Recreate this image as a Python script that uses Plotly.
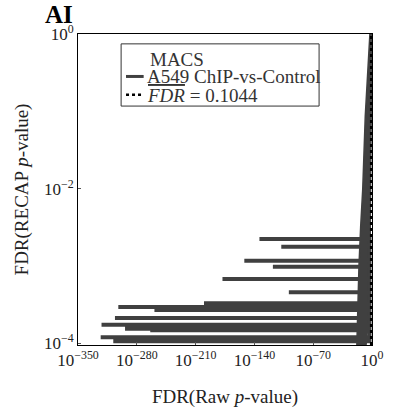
import math
import plotly.graph_objects as go

# ---- data ----
# horizontal excursions: recap FDR level and the smallest raw FDR reached (log10)
bar_recap_fdr = [2.24e-3, 1.78e-3, 1.17e-3, 9.8e-4, 6.8e-4, 4.6e-4, 3.3e-4, 2.95e-4,
                 2.7e-4, 2.14e-4, 1.74e-4, 1.55e-4, 1.48e-4, 1.2e-4, 1.07e-4]
bar_raw_log10 = [-134, -108, -152, -118, -178, -99, -200, -302,
                 -259, -306, -322, -294, -264, -323, -308]
bar_right_raw_log10 = -3.0

# envelope of the dense band of points near raw FDR ~ 1 (log10 of raw FDR)
band_raw_log10 = [-0.2, -2.5, -8.0, -11.0, -13.5, -15.5, -18.0, -7.0, -2.8, -1.5, -0.2]
band_recap = [1.0, 1.0, 8.7e-2, 1e-2, 3.2e-3, 1.0e-3, 9.8e-5, 9.8e-5, 3e-4, 1e-2, 1.0]

fdr_bar = 0.1044
x_tick_exps = [-350, -280, -210, -140, -70, 0]
y_tick_vals = [1.0, 1e-2, 1e-4]
y_tick_text = ["10<sup>0</sup>", "10<sup>−2</sup>", "10<sup>−4</sup>"]
y_min_log, y_max_log = -4.02, 0.0

legend_title = "MACS"
legend_series = "A549 ChIP-vs-Control"
legend_fdr = '<span style="text-decoration:overline"><i>FDR</i></span> = 0.1044'

# build the connected line
line_x, line_y = [], []
for yv, xl in zip(bar_recap_fdr, bar_raw_log10):
    line_x += [bar_right_raw_log10, xl, bar_right_raw_log10]
    line_y += [yv, yv, yv]

col = "#404040"
font = "Liberation Serif"
tcol = "#222"

fig = go.Figure()
fig.add_trace(go.Scatter(x=band_raw_log10, y=band_recap, mode="lines", fill="toself",
                         fillcolor=col, line=dict(color=col, width=1.5),
                         showlegend=False, hoverinfo="skip"))
fig.add_trace(go.Scatter(x=line_x, y=line_y, mode="lines", name=legend_series,
                         line=dict(color=col, width=4), showlegend=False))
fdr_x = math.log10(fdr_bar)
fig.add_trace(go.Scatter(x=[fdr_x, fdr_x], y=[10 ** y_min_log, 1.0], mode="lines",
                         name=legend_fdr, showlegend=False,
                         line=dict(color="black", width=2.5, dash="dot")))

fig.update_layout(
    width=396, height=416,
    margin=dict(l=78, r=18, t=34, b=67),
    paper_bgcolor="white", plot_bgcolor="white",
    font=dict(family=font, size=19, color=tcol),
    showlegend=False,
)
fig.update_xaxes(type="linear", range=[-350, 0],
                 tickmode="array", tickvals=x_tick_exps,
                 ticktext=[f"10<sup>{'−' if e < 0 else ''}{abs(e)}</sup>" for e in x_tick_exps],
                 showgrid=False, zeroline=False,
                 showline=True, linecolor="black", linewidth=1, mirror=True,
                 ticks="inside", ticklen=3, tickcolor="#555",
                 tickfont=dict(family=font, size=17, color=tcol),
                 title=dict(text="FDR(Raw <i>p</i>-value)", standoff=20,
                            font=dict(family=font, size=19, color=tcol)))
fig.update_yaxes(type="log", range=[y_min_log, y_max_log],
                 tickmode="array", tickvals=y_tick_vals, ticktext=y_tick_text,
                 showgrid=False, zeroline=False,
                 showline=True, linecolor="black", linewidth=1, mirror=True,
                 ticks="inside", ticklen=3, tickcolor="#555",
                 tickfont=dict(family=font, size=17, color=tcol),
                 title=dict(text="FDR(RECAP <i>p</i>-value)", standoff=10,
                            font=dict(family=font, size=19, color=tcol)))
fig.add_annotation(text="<b>AI</b>", xref="paper", yref="paper", x=-0.12, y=1.112,
                   xanchor="left", yanchor="top", showarrow=False,
                   font=dict(family=font, size=25, color="black"))

# ---- legend box (drawn manually) ----
def px(xp):
    return (xp - 78) / 300.0

def py(yp):
    return 1 - (yp - 34) / 315.0

fig.add_shape(type="rect", xref="paper", yref="paper",
              x0=px(122), x1=px(324), y0=py(107), y1=py(44),
              line=dict(color="#333", width=1), fillcolor="white", layer="above")
fig.add_shape(type="line", xref="paper", yref="paper",
              x0=px(127), x1=px(145), y0=py(77), y1=py(77),
              line=dict(color=col, width=3), layer="above")
fig.add_shape(type="line", xref="paper", yref="paper",
              x0=px(127), x1=px(145), y0=py(95.5), y1=py(95.5),
              line=dict(color="black", width=2.5, dash="dot"), layer="above")
for txt, yy, xx in [(legend_title, 59.5, 149), (legend_series, 77, 146), (legend_fdr, 96, 146)]:
    fig.add_annotation(text=txt, xref="paper", yref="paper", x=px(xx), y=py(yy),
                       xanchor="left", yanchor="middle", showarrow=False,
                       font=dict(family=font, size=19, color="#333"))

fig.write_html("out.html")
